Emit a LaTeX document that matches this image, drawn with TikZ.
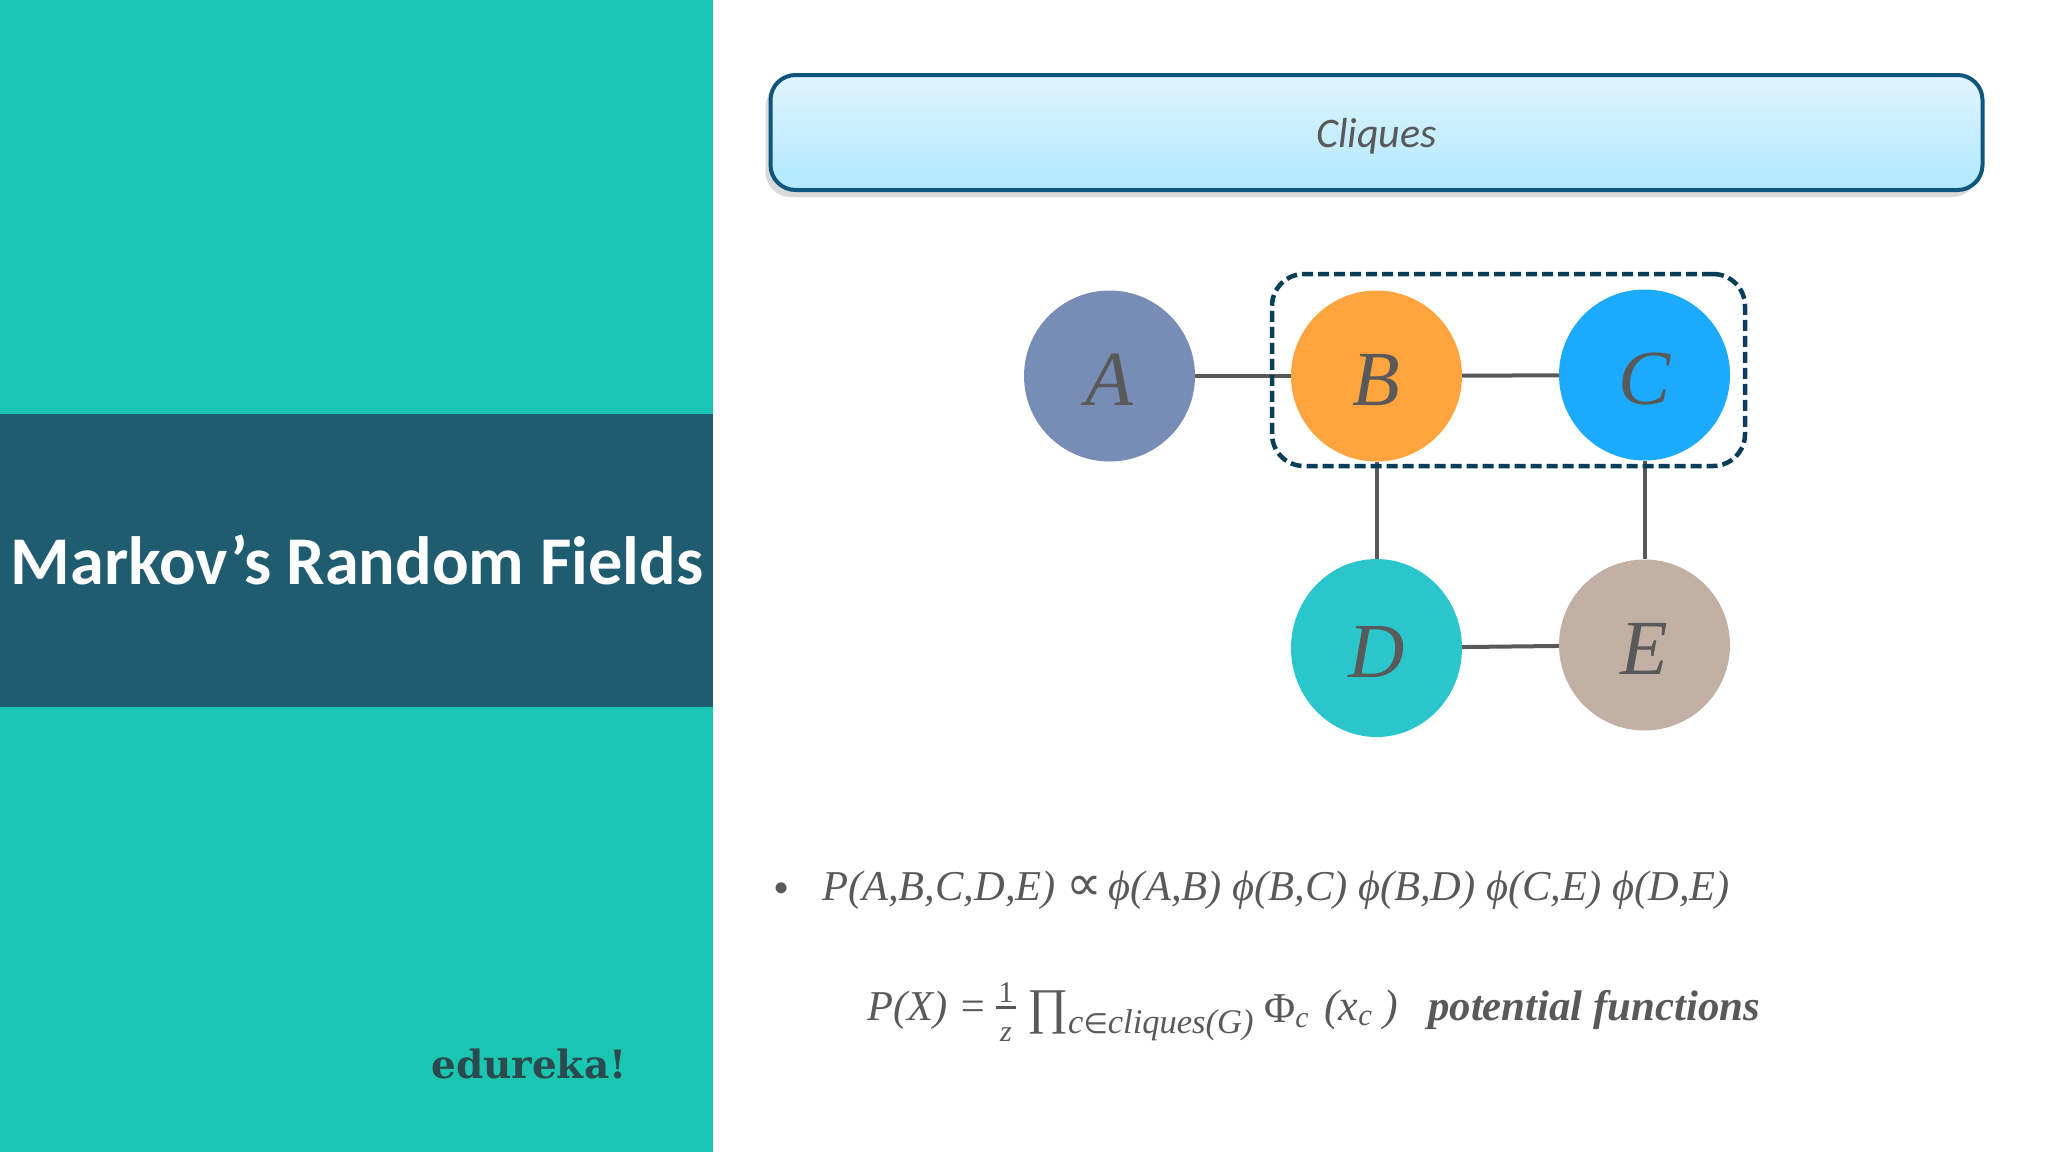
\documentclass[tikz,border=0pt]{standalone}
\usepackage{fontspec}
\usepackage{xcolor}
\setmainfont{Liberation Serif}
\newfontfamily\carlito{Carlito}
\newfontfamily\logofont{DejaVu Serif}
\newfontfamily\symfont{DejaVu Sans}
\usetikzlibrary{shapes.geometric,shadows}
\definecolor{mteal}{RGB}{26,198,178}
\definecolor{mband}{RGB}{31,92,112}
\definecolor{mborder}{RGB}{14,86,124}
\definecolor{mdash}{RGB}{10,62,88}
\definecolor{mink}{RGB}{89,89,89}
\definecolor{mlogo}{RGB}{43,74,77}
\definecolor{mtop}{RGB}{224,245,255}
\definecolor{mbottom}{RGB}{176,232,255}
\definecolor{nodeA}{RGB}{120,141,182}
\definecolor{nodeB}{RGB}{255,164,62}
\definecolor{nodeC}{RGB}{28,170,254}
\definecolor{nodeD}{RGB}{42,198,204}
\definecolor{nodeE}{RGB}{194,176,164}

\begin{document}
\begin{tikzpicture}[x=1pt,y=-1pt]
  \tikzset{mrf node/.style={ellipse,fill=#1,minimum width=171pt,minimum height=171pt,inner sep=0pt,text=mink,text height=58pt,text depth=0pt,font=\fontsize{78}{90}\selectfont\itshape},
    link/.style={draw=mink,line width=4pt},
    eqn/.style={anchor=base west,inner sep=0pt,text=mink,font=\fontsize{42.5}{50}\selectfont\itshape}}
  \useasboundingbox (0,0) rectangle (2048,1152);

  \fill[mteal] (0,0) rectangle (713,1152);
  \node [fill=mband,minimum width=713pt,minimum height=293pt,inner sep=0pt] (band) at (356.5,560.5) {};
  \node [anchor=base,inner sep=0pt,text=white,font=\fontsize{68.3}{80}\selectfont\carlito\bfseries] (title) at (357,584) {Markov’s Random Fields};
  \node [anchor=base west,inner sep=0pt,text=mlogo,font=\fontsize{39}{46}\selectfont\logofont\bfseries] (logo) at (431,1078) {edureka!};

  \node [draw=mborder,line width=4pt,rounded corners=25pt,top color=mtop,bottom color=mbottom,
    drop shadow={shadow xshift=-5pt,shadow yshift=-7pt,opacity=0.3},minimum width=1212pt,minimum height=115pt,inner sep=0pt,
    text=mink,text height=29pt,text depth=0pt,font=\fontsize{42}{48}\selectfont\carlito\itshape] (header) at (1376.5,132.5) {Cliques};

  \node [mrf node=nodeA] (A) at (1109.5,376) {A}; % A
  \node [mrf node=nodeB] (B) at (1376.5,376) {B}; % B
  \node [mrf node=nodeC] (C) at (1644.5,375) {C}; % C
  \node [mrf node=nodeD,minimum height=178pt] (D) at (1376.5,648) {D}; % D
  \node [mrf node=nodeE] (E) at (1644.5,645) {E}; % E

  \path[link] (A) -- (B);
  \path[link] (B) -- (C);
  \path[link] (B) -- (D);
  \path[link] (C) -- (E);
  \path[link] (D) -- (E);

  \node [draw=mdash,line width=4.5pt,dash pattern=on 11pt off 5pt,rounded corners=32pt,minimum width=473pt,minimum height=192pt,inner sep=0pt] (clique) at (1508.5,370) {};

  \node [anchor=base,text=mink,inner sep=0pt,font=\fontsize{46}{50}\selectfont] (bullet) at (782,903) {•};
  \node [eqn] (joint) at (822,900) {P(A,B,C,D,E) {\upshape\symfont\fontsize{50}{50}\selectfont ∝}\hspace{-4pt} ϕ(A,B) ϕ(B,C) ϕ(B,D) ϕ(C,E) ϕ(D,E)};
  \node [eqn] (px) at (867,1020) {P(X) = };
  \node [inner sep=0pt,align=center,text=mink,font=\fontsize{30}{30}\selectfont] (frac) at (1006,1012) {1\\[-23pt]\rule{20pt}{3pt}\\[2pt]\itshape z};
  \node [eqn,font=\fontsize{50}{50}\selectfont] (prod) at (1027,1023) {∏};
  \node [eqn,font=\fontsize{34.5}{40}\selectfont\itshape] (range) at (1068,1033) {c{\upshape\symfont\fontsize{28}{30}\selectfont ∈}cliques(G)};
  \node [eqn] (phi) at (1264,1022) {\upshape Φ\textsubscript{\itshape c}};
  \node [eqn,font=\fontsize{44}{50}\selectfont\itshape] (xc) at (1324,1020) {(x\textsubscript{c} )};
  \node [eqn,font=\fontsize{42.8}{50}\selectfont\itshape\bfseries] (potential) at (1428,1020) {potential functions};
\end{tikzpicture}
\end{document}
